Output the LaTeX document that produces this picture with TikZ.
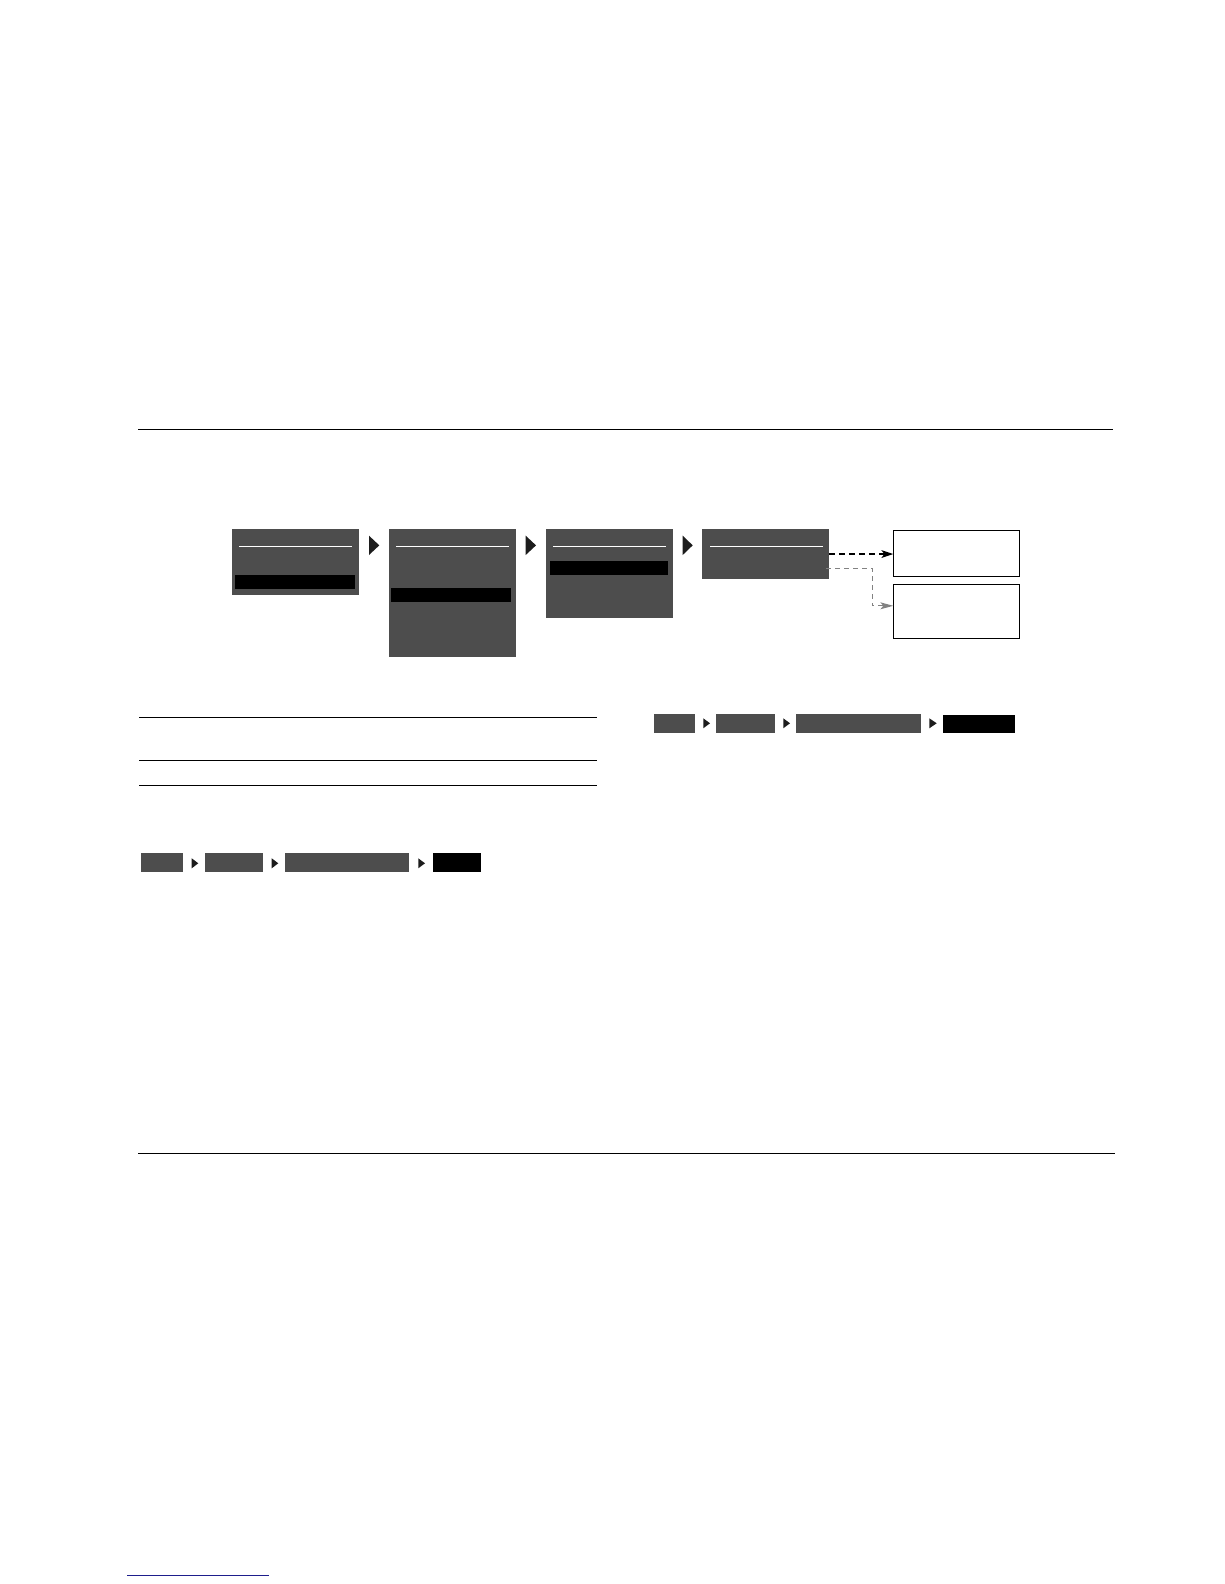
\documentclass[tikz,border=0pt]{standalone}
\usetikzlibrary{arrows.meta}
\definecolor{panelgray}{RGB}{77,77,77}
\definecolor{tipgray}{RGB}{28,28,28}
\definecolor{linkblue}{RGB}{30,30,140}
\definecolor{dashgray}{RGB}{130,130,130}
\def\menuscreen(#1,#2)(#3,#4){\fill[panelgray] (#1,#2) rectangle (#3,#4); \draw[white, line width=1pt] ({#1+7},546.3) -- ({#3-7},546.3);}
\def\playtri(#1,#2)(#3,#4){\fill[tipgray] (#1,#2) -- (#3,{(#2+#4)/2}) -- (#1,#4) -- cycle;}
\tikzset{
  screen/.style={fill=panelgray, inner sep=0pt, anchor=north west},
  result/.style={draw=black, line width=1pt, fill=white, inner sep=0pt, anchor=north west},
}

\begin{document}
\begin{tikzpicture}[x=1pt, y=-1pt]
			%%%%% START %%%%%
			\useasboundingbox (0,0) rectangle (1224,1584);
			
			% page rules
			\draw[line width=1.3pt] (138.4,429.2) -- (1113,429.2);
			\draw[line width=1.3pt] (138.4,1153.4) -- (1115,1153.4);
			
			% menu screens
			\menuscreen(232,529)(358.7,594.7);
			\fill[black] (235,575) rectangle (355,589);
			\playtri(369,535.7)(379.3,555);
			
			\menuscreen(389,529)(516,656.7);
			\fill[black] (391,588) rectangle (511,602);
			\playtri(525.7,535.7)(536,555);
			
			\menuscreen(546,529)(672.6,617.7);
			\fill[black] (550,561) rectangle (668,575);
			\playtri(682.7,535.7)(692.7,555);
			
			\node[screen, minimum width=126.7pt, minimum height=49.7pt] (s4) at (702,529) {};
			\draw[white, line width=1pt] (710,546.3) -- (823,546.3);
			
			% results
			\node[result, minimum width=125.4pt, minimum height=46pt] (r1) at (893.3,530.3) {};
			\node[result, minimum width=125.4pt, minimum height=54pt] (r2) at (893.3,584.3) {};
			
			\draw[line width=2.5pt, dash pattern=on 6pt off 4pt, -{Stealth[length=12pt,width=8pt,inset=3pt,line width=0pt]}] (s4.east) -- (s4.east -| r1.west);
			\draw[dashgray, line width=1pt, dash pattern=on 5pt off 4pt, -{Stealth[length=13pt,width=7pt,inset=3pt,line width=0pt]}] ([xshift=-3pt,yshift=11pt]s4.south east) -- ++(46,0) |- ([yshift=6pt]r2.west);
			
			% table rules
			\draw[line width=1.2pt] (139,717.3) -- (597,717.3);
			\draw[line width=1.2pt] (139,760.3) -- (597,760.3);
			\draw[line width=1.2pt] (139,785.3) -- (597,785.3);
			
			% breadcrumb, right
			\fill[panelgray] (654,714) rectangle (695,733);
			\playtri(703.3,718.3)(710,728.3);
			\fill[panelgray] (716,714) rectangle (775,733);
			\playtri(783.3,718.3)(790,728.3);
			\fill[panelgray] (796,714) rectangle (921,733);
			\playtri(929.3,718.3)(936.7,728.3);
			\fill[black] (942.7,715) rectangle (1015,733);
			
			% breadcrumb, left
			\fill[panelgray] (141,853) rectangle (183,872);
			\playtri(191.7,858.3)(198.3,868.3);
			\fill[panelgray] (205,853) rectangle (263,872);
			\playtri(271.7,858.3)(278.3,868.3);
			\fill[panelgray] (284.7,853) rectangle (409,872);
			\playtri(418.3,858.3)(425,868.3);
			\fill[black] (433,853) rectangle (481,872);
			
			% link
			\draw[linkblue, line width=1pt] (127.3,1575) -- (269,1575);
			
			%%%%% END %%%%%
\end{tikzpicture}
\end{document}
